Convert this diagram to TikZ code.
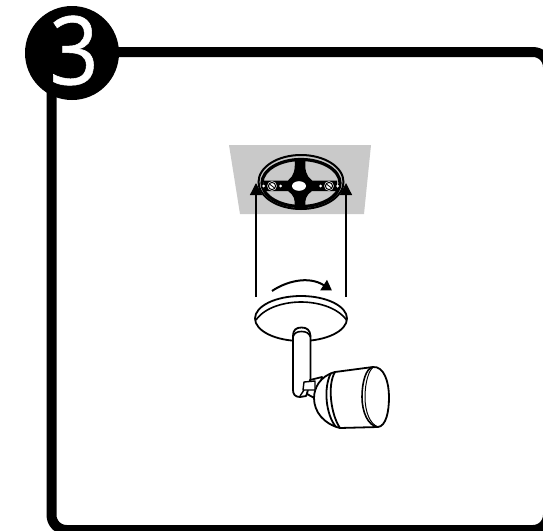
\documentclass[tikz,border=0pt]{standalone}
\usepackage{fontspec}
\setmainfont{Open Sans}
\usetikzlibrary{arrows.meta}
\tikzset{
  frameline/.style={line width=10pt,rounded corners=15pt},
  bodyline/.style={line width=1.8pt,black,fill=white,line join=round},
  uparrow/.style={line width=1.3pt,-{Triangle[length=12pt,width=12pt]}},
}
\begin{document}
\begin{tikzpicture}[x=1pt,y=-1pt]
\useasboundingbox (0,0) rectangle (543,530);
\clip (0,0) rectangle (543,530);
\fill[white] (0,0) rectangle (543,530);
% frame
\draw[frameline] (51.5,52) rectangle (548,530);
\fill[black] (72,53) circle (47);
\node[text=white,inner sep=0pt,xscale=0.86,yscale=0.95,font=\fontsize{100}{100}\selectfont\addfontfeature{FakeBold=0.6}] (num) at (74,50.5) {3};
% ceiling patch
\fill[black!21] (229,145) -- (371,145) -- (364,214) -- (240,214) -- cycle;
% mounting plate
\draw[line width=2pt] (301,182) ellipse (42.5 and 27);
\draw[line width=3.2pt] (301,183) ellipse (39 and 23.5);
\fill[black] (294.5,158) .. controls (295.5,170) and (294,176) .. (288,180.5) -- (264,180.5) -- (263,191) -- (288,191)
  .. controls (294,195) and (295.5,200) .. (294.5,207) -- (305.5,207) .. controls (304.5,200) and (306,195) .. (312,191)
  -- (337,191) -- (337,180.5) -- (312,180.5) .. controls (306,176) and (304.5,170) .. (305.5,158) -- cycle;
\fill[white] (299,186) ellipse (7 and 4.8);
\foreach \sx in {272,329}{
  \fill[white] (\sx,186) circle (4.8);
  \draw[line width=1pt] (\sx,186) circle (3.6);
  \draw[line width=0.8pt] (\sx-2.5,184) -- (\sx+2.5,188);
  \fill[white] (\sx-8.5,186) circle (1.5) (\sx+8.5,186) circle (1.5);
}
% arrows
\coordinate (la) at (256,297); \coordinate (lb) at (256,183);
\coordinate (ra) at (346,297); \coordinate (rb) at (346,183);
\draw[uparrow] (la) -- (lb);
\draw[uparrow] (ra) -- (rb);
\coordinate (ca) at (272,291); \coordinate (cb) at (332,290.5);
\draw[line width=2pt,-{Triangle[length=10pt,width=12pt]}] (ca) .. controls (285,282) and (308,275) .. (cb);
% ceiling disc
\draw[bodyline] (301,318.5) ellipse (46 and 22.5);
\draw[line width=1.6pt] (256,320) .. controls (265,307) and (285,302) .. (301,302) .. controls (317,302) and (337,307) .. (346.5,320);
% arm
\draw[bodyline] (293,336) .. controls (293,330) and (296,327.5) .. (301.5,327.5) .. controls (307,327.5) and (310,330) .. (310.5,336)
  -- (310.5,385) -- (306,396) -- (300,397) .. controls (295,397) and (293,394) .. (293,390) -- cycle;
\draw[line width=1.6pt] (293,337) .. controls (294,333) and (297,331.5) .. (301.5,331.5) .. controls (306,331.5) and (309,333) .. (310.5,337);
% camera
\draw[bodyline] (310,380) -- (322,377) -- (318,400) -- (307,394) -- cycle;
\draw[bodyline] (335,372) .. controls (320,376) and (314,388) .. (314,398) .. controls (314,412) and (324,424) .. (340,428) -- cycle;
\draw[bodyline] (335,372) -- (373,367) .. controls (384,366) and (389,382) .. (389,397)
  .. controls (389,412) and (386,426) .. (378,427) -- (340,428) .. controls (331,415) and (327,385) .. (335,372) -- cycle;
\draw[line width=1.8pt] (331,373) .. controls (323,388) and (326,415) .. (336,427);
\draw[line width=1.6pt] (373,367) .. controls (366,368) and (362,382) .. (362,397) .. controls (362,412) and (368,426) .. (378,427);
\draw[line width=1pt] (373,367.5) .. controls (369,370) and (365,382) .. (365,397) .. controls (365,412) and (370,424) .. (378,427);
% joint
\draw[bodyline,line width=1.4pt] (304,382) -- (315,381) -- (315,390) -- (303,390) -- cycle;
\draw[line width=1.4pt] (304,390) -- (300,396);
\end{tikzpicture}
\end{document}
